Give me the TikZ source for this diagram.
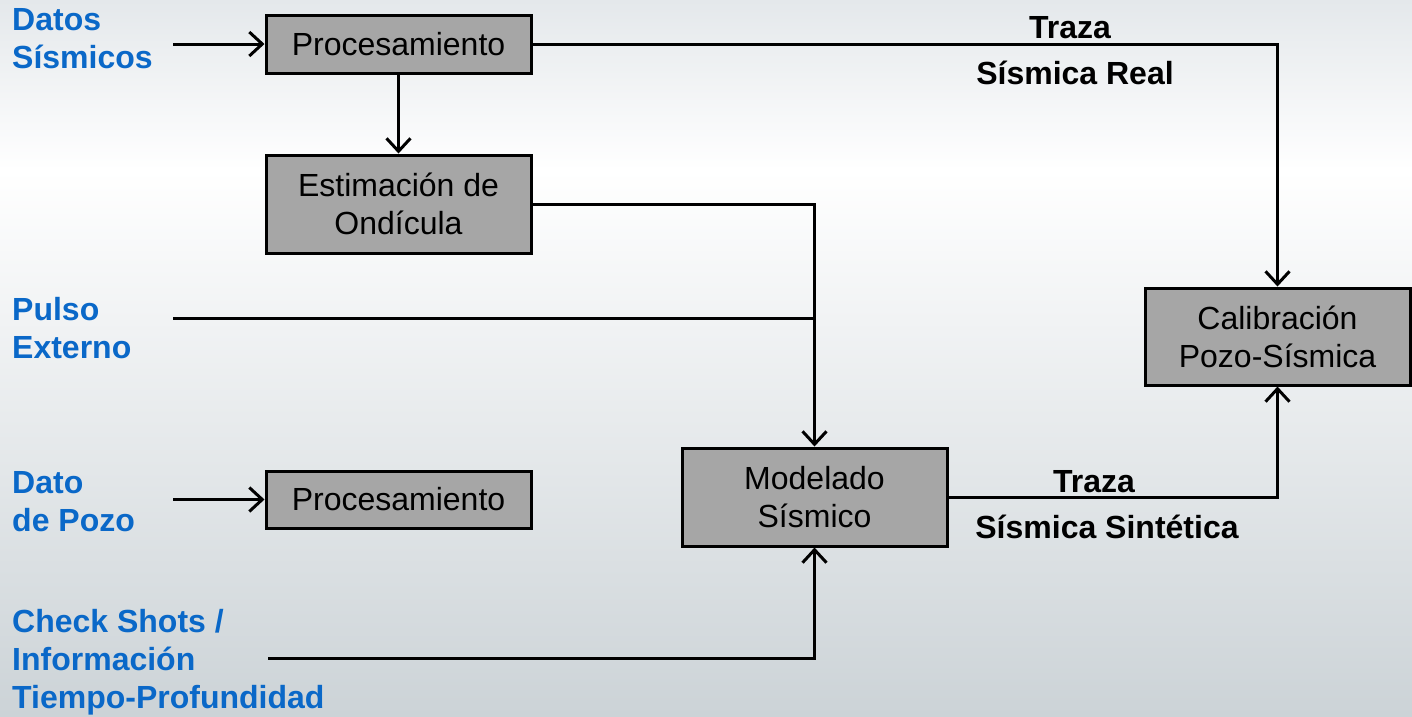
\documentclass[tikz,border=0pt]{standalone}
\usepackage{fontspec}
\setmainfont{Liberation Sans}
\usetikzlibrary{arrows.meta}
\definecolor{lblblue}{RGB}{10,104,200}
\definecolor{boxgray}{RGB}{166,166,166}
\definecolor{bgtop}{RGB}{228,232,235}
\definecolor{bgbot}{RGB}{204,211,215}
\tikzset{
  procbox/.style={draw=black, line width=3pt, fill=boxgray, minimum width=265pt, inner sep=0pt, align=center,
    font=\fontsize{32}{38}\selectfont},
  inlbl/.style={text=lblblue, font=\bfseries\fontsize{32}{38}\selectfont, anchor=base west, inner sep=0pt},
  trlbl/.style={text=black, font=\bfseries\fontsize{32}{38}\selectfont, anchor=base, inner sep=0pt},
  conn/.style={line width=3pt, draw=black},
  >={Straight Barb[length=13pt,width=24pt]}
}
\begin{document}
\begin{tikzpicture}[x=1pt,y=-1pt]
\useasboundingbox (0,0) rectangle (1412,716);
\shade[top color=bgtop, bottom color=white] (0,0) rectangle (1412,170);
\shade[top color=white, bottom color=bgbot] (0,170) rectangle (1412,716);

% boxes
\node[procbox, minimum height=58pt] (p1) at (398.5,44) {Procesamiento};
\node[procbox, minimum height=98pt] (est) at (398.5,204) {Estimación de\\Ondícula};
\node[procbox, minimum height=57pt] (p3) at (398.5,499.5) {Procesamiento};
\node[procbox, minimum height=98pt] (mod) at (814.5,497) {Modelado\\Sísmico};
\node[procbox, minimum height=97pt] (cal) at (1277.5,336.5) {Calibración\\Pozo-Sísmica};

% input labels
\node[inlbl] (l1a) at (12,30) {Datos};
\node[inlbl] (l1b) at (12,68) {Sísmicos};
\node[inlbl] (l2a) at (12,320) {Pulso};
\node[inlbl] (l2b) at (12,358) {Externo};
\node[inlbl] (l3a) at (12,493) {Dato};
\node[inlbl] (l3b) at (12,531) {de Pozo};
\node[inlbl] (l4a) at (12,632) {Check Shots /};
\node[inlbl] (l4b) at (12,670) {Información};
\node[inlbl] (l4c) at (12,708) {Tiempo-Profundidad};

% trace labels
\node[trlbl] (t1a) at (1070,38) {Traza};
\node[trlbl] (t1b) at (1075,84) {Sísmica Real};
\node[trlbl] (t2a) at (1094,492) {Traza};
\node[trlbl] (t2b) at (1107,538) {Sísmica Sintética};

% free ends
\coordinate (dsin) at (173,44);
\coordinate (pin) at (173,318);
\coordinate (dpin) at (173,499.5);
\coordinate (cin) at (268,658);
\coordinate (junc) at (mod.north |- pin);

% connectors
\draw[conn,->] (dsin) -- (p1.west);
\draw[conn,->] (p1.south) -- (est.north);
\draw[conn,->] (p1.east) -| (cal.north);
\draw[conn,->] (est.east) -| (mod.north);
\draw[conn] (pin) -- (junc);
\draw[conn,->] (dpin) -- (p3.west);
\draw[conn,->] (cin) -| (mod.south);
\draw[conn,->] (mod.east) -| (cal.south);
\end{tikzpicture}
\end{document}
